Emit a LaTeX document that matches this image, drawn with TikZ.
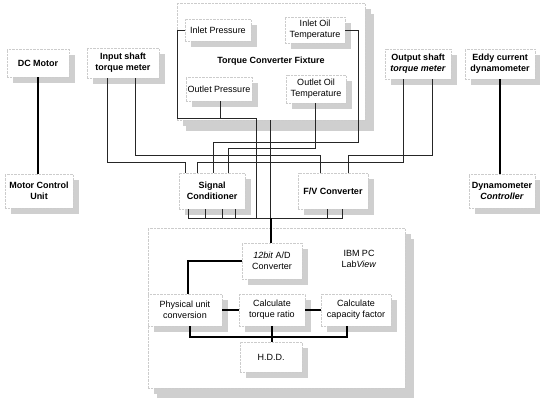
\documentclass[tikz,border=0pt]{standalone}
\usepackage{fontspec}
\setmainfont{Liberation Sans}
\usetikzlibrary{shadows}
\begin{document}
\begin{tikzpicture}[x=1pt,y=-1pt,
    every node/.style={font=\fontsize{9}{11}\selectfont, align=center, inner sep=1pt},
    box/.style={draw=gray!40, densely dotted, line width=0.4pt, fill=white,
        drop shadow={shadow xshift=6pt, shadow yshift=-6pt, opacity=1, fill=gray!38, draw=none}},
    frame/.style={box, drop shadow={shadow xshift=9pt, shadow yshift=-11pt, opacity=1, fill=gray!38, draw=none}},
    bold/.style={font=\fontsize{9}{11}\selectfont\bfseries},
    wire/.style={draw=black!85, line width=0.5pt},
    heavy/.style={draw=black, line width=1.5pt}]
    \useasboundingbox (0,0) rectangle (540,397);

    % 外框
    \node[frame, bold, minimum width=188pt, minimum height=117pt] (fixture) at (271,61.5) {Torque Converter Fixture};
    \node[frame, minimum width=257pt, minimum height=160pt] (pc) at (276.5,308) {};
    \node (pclabel) at (359,259) {IBM PC\\Lab\textit{View}};

    % 传感器
    \node[box, minimum width=66pt, minimum height=22pt] (inletp) at (218,30) {Inlet Pressure};
    \node[box, minimum width=60pt, minimum height=26pt] (inlett) at (315,30) {Inlet Oil\\Temperature};
    \node[box, minimum width=66pt, minimum height=24pt] (outletp) at (219,89) {Outlet Pressure};
    \node[box, minimum width=60pt, minimum height=28pt] (outlett) at (316,89) {Outlet Oil\\Temperature};

    % 上排
    \node[box, bold, minimum width=62pt, minimum height=28pt] (dcmotor) at (38,63) {DC Motor};
    \node[box, bold, minimum width=72pt, minimum height=30pt] (inshaft) at (123,63) {Input shaft\\torque meter};
    \node[box, bold, minimum width=66pt, minimum height=30pt] (outshaft) at (418,64) {Output shaft\\\textit{torque meter}};
    \node[box, bold, minimum width=70pt, minimum height=30pt] (eddy) at (500,64) {Eddy current\\dynamometer};

    % 中排
    \node[box, bold, minimum width=68pt, minimum height=34pt] (mcu) at (39,191) {Motor Control\\Unit};
    \node[box, bold, minimum width=66pt, minimum height=36pt] (sigcond) at (212,191) {Signal\\Conditioner};
    \node[box, bold, minimum width=70pt, minimum height=36pt] (fv) at (333,191) {F/V Converter};
    \node[box, bold, minimum width=66pt, minimum height=34pt] (dynctrl) at (502,191) {Dynamometer\\\textit{Controller}};

    % PC 内部
    \node[box, minimum width=60pt, minimum height=36pt] (ad) at (272,261) {\textit{12bit} A/D\\Converter};
    \node[box, minimum width=74pt, minimum height=32pt] (phys) at (185,310) {Physical unit\\conversion};
    \node[box, minimum width=66pt, minimum height=32pt] (torque) at (272,310) {Calculate\\torque ratio};
    \node[box, minimum width=70pt, minimum height=32pt] (capacity) at (356,310) {Calculate\\capacity factor};
    \node[box, minimum width=62pt, minimum height=30pt] (hdd) at (271,357) {H.D.D.};

    \coordinate (bus) at (271,218);
    \coordinate (store) at (272,337);

    % 电机与测功机
    \draw[heavy] (dcmotor.south) -- (dcmotor.south |- mcu.north);
    \draw[heavy] (eddy.south) -- (eddy.south |- dynctrl.north);

    % 信号线
    \draw[wire] ([xshift=-16pt]inshaft.south) -- ++(0,84) -| ([xshift=-27pt]sigcond.north);
    \draw[wire] ([xshift=12pt]inshaft.south) -- ++(0,77) -| ([xshift=-13pt]fv.north);
    \draw[wire] ([xshift=-15pt]outshaft.south) -- ++(0,83) -| ([xshift=-15pt]sigcond.north);
    \draw[wire] ([xshift=14pt]outshaft.south) -- ++(0,76) -| ([xshift=15pt]fv.north);
    \draw[wire] (inlett.east) -- ++(13,0) -- ++(0,112) -| ([xshift=1pt]sigcond.north);
    \draw[wire] ([xshift=-1pt]outlett.south) -- ++(0,45) -| ([xshift=16pt]sigcond.north);
    \draw[wire] (inletp.west) -- ++(-8,0) -- ++(0,88) -| ([xshift=-15pt]bus);
    \draw[wire] ([xshift=1pt]outletp.south) -- ++(0,17) -| ([xshift=-15pt]bus);
    \draw[wire] ([xshift=-1pt]fixture.south) -- ([xshift=-1pt]bus);
    \foreach \dx in {-24,-7,10,23}
        \draw[wire] ([xshift=\dx pt]sigcond.south) |- (bus);
    \foreach \dx in {-6,9}
        \draw[wire] ([xshift=\dx pt]fv.south) |- (bus);

    % 数据流
    \draw[heavy] (bus) -- (bus |- ad.north);
    \draw[heavy] (ad.west) -| ([xshift=3pt]phys.north);
    \draw[heavy] (phys.east) -- (torque.west);
    \draw[heavy] (torque.east) -- (capacity.west);
    \draw[heavy] ([xshift=5pt]phys.south) |- (store);
    \draw[heavy] ([xshift=-9pt]capacity.south) |- (store);
    \draw[heavy] (torque.south) -- (store) -- (store |- hdd.north);
\end{tikzpicture}
\end{document}
